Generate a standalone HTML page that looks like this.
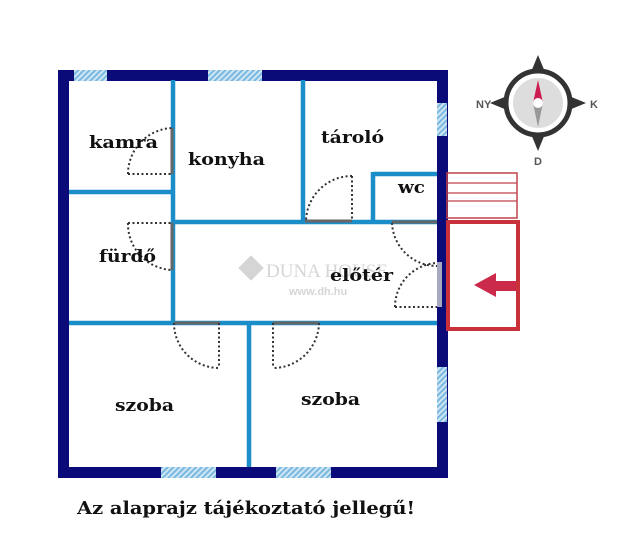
<!DOCTYPE html>
<html><head><meta charset="utf-8"><style>
html,body{margin:0;padding:0;background:#fff;}
svg{display:block;}
.l{font-family:"DejaVu Serif","Liberation Serif",serif;font-weight:bold;fill:#111;}
</style></head><body>
<svg width="640" height="553" viewBox="0 0 640 553" xmlns="http://www.w3.org/2000/svg">
<defs>
<pattern id="h" width="4" height="4" patternUnits="userSpaceOnUse" patternTransform="rotate(45)">
<rect width="4" height="4" fill="#cfe6f5"/><rect width="2" height="4" fill="#7ab8e0"/>
</pattern>
</defs>
<rect x="63.5" y="75.5" width="379" height="397" fill="none" stroke="#0a0a78" stroke-width="11"/>
<rect x="74" y="70" width="33" height="11" fill="url(#h)"/>
<rect x="208" y="70" width="54" height="11" fill="url(#h)"/>
<rect x="437" y="103" width="10" height="33" fill="url(#h)"/>
<rect x="437" y="367" width="10" height="55" fill="url(#h)"/>
<rect x="161" y="467" width="55" height="11" fill="url(#h)"/>
<rect x="276" y="467" width="55" height="11" fill="url(#h)"/>
<g stroke="#1b8dc8" stroke-width="4.5" fill="none">
<line x1="173" y1="80" x2="173" y2="323"/>
<line x1="69" y1="192" x2="173" y2="192"/>
<line x1="303" y1="80" x2="303" y2="222"/>
<line x1="173" y1="222" x2="437" y2="222"/>
<line x1="373" y1="172" x2="373" y2="222"/>
<line x1="373" y1="174" x2="437" y2="174"/>
<line x1="69" y1="323" x2="437" y2="323"/>
<line x1="249" y1="323" x2="249" y2="467"/>
</g>
<g stroke="#666" stroke-width="3">
<line x1="172" y1="128" x2="172" y2="174"/>
<line x1="172" y1="223" x2="172" y2="270"/>
<line x1="305" y1="221" x2="352" y2="221"/>
<line x1="392" y1="222" x2="437" y2="222"/>
<line x1="174" y1="323" x2="220" y2="323"/>
<line x1="273" y1="323" x2="319" y2="323"/>
</g>
<rect x="437" y="262" width="5" height="45" fill="#a8a8c0"/>
<g stroke="#333" stroke-width="2" stroke-dasharray="2,2.5" fill="none">
<path d="M128 174 H172 M128 174 A46 46 0 0 1 172 128"/>
<path d="M128 223 H172 M128 223 A46 46 0 0 0 172 270"/>
<path d="M352 176 V221 M352 176 A46 46 0 0 0 306 221"/>
<path d="M392 223 A45 45 0 0 0 437 266"/>
<path d="M395 307 H437 M395 307 A44 44 0 0 1 437 263"/>
<path d="M219 323 V368 M174 323 A45 45 0 0 0 219 368"/>
<path d="M273 323 V368 M319 323 A46 46 0 0 1 273 368"/>
</g>
<g stroke="#c0404a" fill="none">
<rect x="447" y="173" width="70" height="45" stroke-width="1.5"/>
<line x1="447" y1="183" x2="517" y2="183" stroke-width="1.2"/>
<line x1="447" y1="193" x2="517" y2="193" stroke-width="1.2"/>
<line x1="447" y1="201" x2="517" y2="201" stroke-width="1.2"/>
<rect x="448" y="222" width="70" height="107" stroke-width="4" stroke="#c8303a"/>
</g>
<polygon points="474,285 496,273 496,281 516,281 516,291 496,291 496,297" fill="#cc2a4a"/>
<g opacity="0.35">
<rect x="242" y="259" width="18" height="18" transform="rotate(45 251 268)" fill="#888"/>
<text x="266" y="277" font-family="Liberation Serif,serif" font-size="19" fill="#888">DUNA HOUSE</text>
<text x="289" y="295" font-family="Liberation Sans,sans-serif" font-weight="bold" font-size="11" fill="#888">www.dh.hu</text>
</g>
<text class="l" x="89" y="148" font-size="17" textLength="69" lengthAdjust="spacingAndGlyphs">kamra</text>
<text class="l" x="188" y="165" font-size="17" textLength="77" lengthAdjust="spacingAndGlyphs">konyha</text>
<text class="l" x="321" y="143" font-size="17" textLength="63" lengthAdjust="spacingAndGlyphs">tároló</text>
<text class="l" x="398" y="193" font-size="17" textLength="27" lengthAdjust="spacingAndGlyphs">wc</text>
<text class="l" x="99" y="262" font-size="17" textLength="57" lengthAdjust="spacingAndGlyphs">fürdő</text>
<text class="l" x="330" y="281" font-size="17" textLength="63" lengthAdjust="spacingAndGlyphs">előtér</text>
<text class="l" x="115" y="411" font-size="17" textLength="59" lengthAdjust="spacingAndGlyphs">szoba</text>
<text class="l" x="301" y="405" font-size="17" textLength="59" lengthAdjust="spacingAndGlyphs">szoba</text>
<text class="l" x="77" y="514" font-size="18" textLength="338" lengthAdjust="spacingAndGlyphs">Az alaprajz tájékoztató jellegű!</text>
<g>
<polygon points="538,55 545,72 531,72" fill="#333"/>
<polygon points="538,151 545,134 531,134" fill="#333"/>
<polygon points="490,103 507,96 507,110" fill="#333"/>
<polygon points="586,103 569,96 569,110" fill="#333"/>
<circle cx="538" cy="103" r="32" fill="#fff" stroke="#333" stroke-width="5"/>
<circle cx="538" cy="103" r="26" fill="#ddd" stroke="#fff" stroke-width="2"/>
<polygon points="538,80 543,103 533,103" fill="#cc1c50"/>
<polygon points="538,127 543,103 533,103" fill="#999"/>
<circle cx="538" cy="103" r="5" fill="#fff"/>
<text x="476" y="108" font-family="Liberation Sans,sans-serif" font-weight="bold" font-size="11" fill="#555">NY</text>
<text x="590" y="108" font-family="Liberation Sans,sans-serif" font-weight="bold" font-size="11" fill="#555">K</text>
<text x="534" y="165" font-family="Liberation Sans,sans-serif" font-weight="bold" font-size="11" fill="#555">D</text>
</g>
</svg>
</body></html>
